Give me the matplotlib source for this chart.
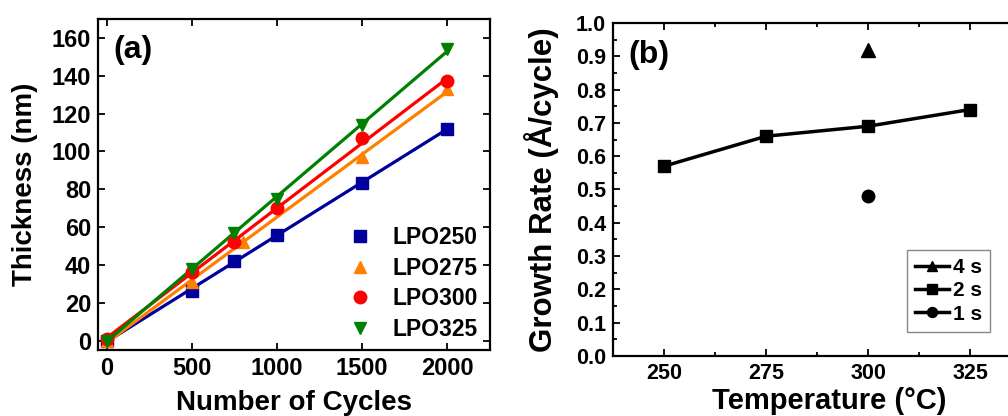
import numpy as np
import matplotlib
matplotlib.use("Agg")
import matplotlib.pyplot as plt
from matplotlib.ticker import MultipleLocator

plt.rcParams['font.family'] = ['Liberation Sans', 'DejaVu Sans']
plt.rcParams['font.weight'] = 'bold'

# ---- Panel (a) data ----
series_a = ['LPO250', 'LPO275', 'LPO300', 'LPO325']
x_250 = [0, 500, 750, 1000, 1500, 2000]
y_250 = [0, 26, 42, 56, 83.5, 112]
x_275 = [0, 500, 800, 1500, 2000]
y_275 = [0, 31, 52, 97, 133]
x_300 = [0, 500, 750, 1000, 1500, 2000]
y_300 = [1, 36, 52, 70, 107, 137]
x_325 = [0, 500, 750, 1000, 1500, 2000]
y_325 = [0, 38, 57, 75, 114, 154]
colors_a = ['#00009C', '#FF8000', '#FF0000', '#008000']
markers_a = ['s', '^', 'o', 'v']
xticks_a = [0, 500, 1000, 1500, 2000]
yticks_a = [0, 20, 40, 60, 80, 100, 120, 140, 160]

# ---- Panel (b) data ----
temp_2s = [250, 275, 300, 325]
rate_2s = [0.57, 0.66, 0.69, 0.74]
temp_4s = [300]
rate_4s = [0.92]
temp_1s = [300]
rate_1s = [0.48]
xticks_b = [250, 275, 300, 325]

fig = plt.figure(figsize=(10.08, 4.16), dpi=100)
W, H = 1008, 416

def px_axes(l, t, r, b):
    return fig.add_axes([l / W, 1 - b / H, (r - l) / W, (b - t) / H])

ax = px_axes(98, 19, 490, 350)
xs = [x_250, x_275, x_300, x_325]
ys = [y_250, y_275, y_300, y_325]
for name, x, y, c, m in zip(series_a, xs, ys, colors_a, markers_a):
    x = np.asarray(x, float); y = np.asarray(y, float)
    k, b0 = np.polyfit(x, y, 1)
    xl = np.array([x.min(), x.max()])
    ax.plot(xl, k * xl + b0, color=c, lw=2.3, zorder=2)
    ax.plot(x, y, linestyle='none', marker=m, color=c, markersize=9,
            label=name, zorder=3)
ax.set_xlim(-50, 2250)
ax.set_ylim(-5, 170)
ax.set_xticks(xticks_a)
ax.set_yticks(yticks_a)
ax.tick_params(direction='in', length=5, width=1.3, labelsize=17,
               top=True, right=True, pad=5)
for s in ax.spines.values():
    s.set_linewidth(1.6)
ax.set_xlabel('Number of Cycles', fontsize=20, fontweight='bold')
ax.set_ylabel('Thickness (nm)', fontsize=20, fontweight='bold')
ax.xaxis.set_label_coords(0.5, -0.12)
ax.yaxis.set_label_coords(-0.153, 0.5)
ax.text(0.038, 0.906, '(a)', transform=ax.transAxes, fontsize=23,
        fontweight='bold', va='center', ha='left')
leg = ax.legend(loc='lower right', frameon=False, fontsize=16.5,
                handletextpad=0.7, labelspacing=0.33, borderaxespad=0.0,
                handlelength=1.4, bbox_to_anchor=(0.992, 0.0))

# ---- Panel (b) ----
bx = px_axes(613, 23, 1021, 356)
bx.plot(temp_4s, rate_4s, color='black', lw=2.5, marker='^', markersize=9.5,
        label='4 s')
bx.plot(temp_2s, rate_2s, color='black', lw=2.5, marker='s', markersize=8.5,
        label='2 s')
bx.plot(temp_1s, rate_1s, color='black', lw=2.5, marker='o', markersize=9,
        label='1 s')
bx.set_xlim(237.5, 337.5)
bx.set_ylim(0, 1.0)
bx.set_xticks(xticks_b)
bx.xaxis.set_minor_locator(MultipleLocator(12.5))
bx.yaxis.set_major_locator(MultipleLocator(0.1))
bx.yaxis.set_minor_locator(MultipleLocator(0.05))
bx.yaxis.set_major_formatter(matplotlib.ticker.FormatStrFormatter('%.1f'))
bx.tick_params(which='both', direction='in', top=True, right=True,
               labelsize=15.5, width=1.3)
bx.tick_params(which='major', length=5, pad=5)
bx.tick_params(which='minor', length=3)
for s in bx.spines.values():
    s.set_linewidth(1.6)
bx.set_xlabel('Temperature (°C)', fontsize=21, fontweight='bold')
bx.set_ylabel('Growth Rate (Å/cycle)', fontsize=22.5, fontweight='bold')
bx.xaxis.set_label_coords(0.53, -0.094)
bx.yaxis.set_label_coords(-0.132, 0.5)
bx.text(0.038, 0.905, '(b)', transform=bx.transAxes, fontsize=23,
        fontweight='bold', va='center', ha='left')
lg = bx.legend(loc='lower left', bbox_to_anchor=(294 / 408, 24 / 333),
               fontsize=15, fancybox=False, edgecolor='#888888',
               handlelength=1.6, handletextpad=0.2, labelspacing=0.2,
               borderpad=0.4, markerscale=0.8, framealpha=1,
               borderaxespad=0.0)
lg.get_frame().set_linewidth(1.0)

fig.savefig('out.png', dpi=100)
